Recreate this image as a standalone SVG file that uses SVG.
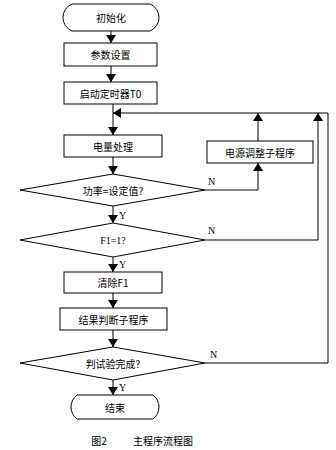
<svg xmlns="http://www.w3.org/2000/svg" width="336" height="450" viewBox="0 0 336 450">
<style>
.s{fill:#fff;stroke:#000;stroke-width:1}
.c{fill:none;stroke:#000;stroke-width:1}
.t{font-family:"Noto Sans CJK SC","Liberation Sans",sans-serif;font-size:10px;fill:#000;text-anchor:middle;dominant-baseline:central}
.l{font-family:"Liberation Serif",serif;font-size:10px;fill:#000}
</style>
<defs>
<marker id="a" markerWidth="8" markerHeight="10" refX="8" refY="5" orient="auto" markerUnits="userSpaceOnUse">
<path d="M0,0 L8,5 L0,10 Z" fill="#000"/>
</marker>
</defs>
<g id="n1"><path class="s" d="M72,4 H150 A14.6,14.6 0 0 1 150,31 H72 A14.6,14.6 0 0 1 72,4 Z"/><text class="t" x="111" y="17.5">初始化</text></g>
<g id="n2"><rect class="s" x="64" y="43" width="93" height="23"/><text class="t" x="110.5" y="54.5">参数设置</text></g>
<g id="n3"><rect class="s" x="64" y="82" width="93" height="22"/><text class="t" x="110.5" y="93">启动定时器T0</text></g>
<g id="n4"><rect class="s" x="64" y="135" width="98" height="22"/><text class="t" x="113" y="146">电量处理</text></g>
<g id="n5"><path class="s" d="M20,190 L113,174 L205,190 L113,206 Z"/><text class="t" x="113" y="190">功率=设定值?</text></g>
<g id="n6"><path class="s" d="M20,240 L113,223 L205,240 L113,257 Z"/><text class="t" x="113" y="240"><tspan font-family="Liberation Serif">F1=1?</tspan></text></g>
<g id="n7"><rect class="s" x="64" y="272" width="98" height="21"/><text class="t" x="113" y="282.5">清除F1</text></g>
<g id="n8"><rect class="s" x="60" y="308" width="107" height="22"/><text class="t" x="113.5" y="319">结果判断子程序</text></g>
<g id="n9"><path class="s" d="M20,363 L113,347 L205,363 L113,380 Z"/><text class="t" x="113" y="363">判试验完成?</text></g>
<g id="n10"><path class="s" d="M77,395 H153 A15,15 0 0 1 153,419 H77 A15,15 0 0 1 77,395 Z"/><text class="t" x="115" y="407">结束</text></g>
<g id="n11"><rect class="s" x="207" y="141" width="106" height="22"/><text class="t" x="260" y="152">电源调整子程序</text></g>
<g id="connectors">
<path class="c" d="M111,31 V43" marker-end="url(#a)"/>
<path class="c" d="M111,66 V82" marker-end="url(#a)"/>
<path class="c" d="M113,104 V135" marker-end="url(#a)"/>
<path class="c" d="M113,157 V174" marker-end="url(#a)"/>
<path class="c" d="M113,206 V223" marker-end="url(#a)"/>
<path class="c" d="M113,257 V272" marker-end="url(#a)"/>
<path class="c" d="M113,293 V308" marker-end="url(#a)"/>
<path class="c" d="M113,330 V347" marker-end="url(#a)"/>
<path class="c" d="M113,380 V395" marker-end="url(#a)"/>
<path class="c" d="M205,190 H258 V163" marker-end="url(#a)"/>
<path class="c" d="M258,141 V113" marker-end="url(#a)"/>
<path class="c" d="M205,240 H318 V113" marker-end="url(#a)"/>
<path class="c" d="M205,363 H328 V113 H113" marker-end="url(#a)"/>
<text class="l" x="119" y="219">Y</text>
<text class="l" x="119" y="268">Y</text>
<text class="l" x="119" y="391">Y</text>
<text class="l" x="208" y="185">N</text>
<text class="l" x="208" y="234">N</text>
<text class="l" x="210" y="358">N</text>
</g>
<text class="t" x="99" y="440">图2</text>
<text class="t" x="163" y="440">主程序流程图</text>
</svg>
